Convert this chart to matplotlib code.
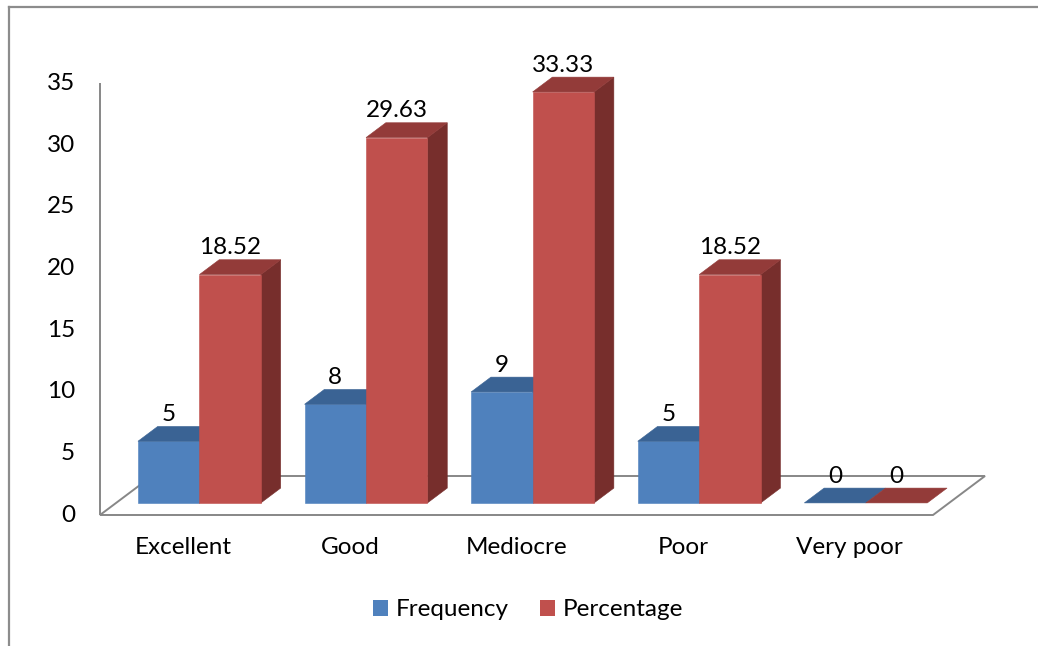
import matplotlib
matplotlib.use("Agg")
import matplotlib.pyplot as plt
from matplotlib.patches import Polygon, Patch
from matplotlib.lines import Line2D

plt.rcParams['font.family'] = ['Lato', 'DejaVu Sans']

# Survey results
categories = ["Excellent", "Good", "Mediocre", "Poor", "Very poor"]
frequency = [5, 8, 9, 5, 0]
percentage = [18.52, 29.63, 33.33, 18.52, 0]
series_names = ["Frequency", "Percentage"]
y_ticks = [0, 5, 10, 15, 20, 25, 30, 35]

# Face colours: front, top, side
blue = ("#4F81BD", "#3A6394", "#2F5078")
red = ("#C0504D", "#933B39", "#772E2C")
axis_grey = "#878787"
FS = 17.5

W, H = 1038, 646
fig = plt.figure(figsize=(W / 100, H / 100), dpi=100)
ax = fig.add_axes([0, 0, 1, 1])

# Pixel scale of the category and value axes
px_per_cat = 166.6
px_per_val = 12.33
x_left_px, y_zero_px = 100, 515
ax.set_xlim(-x_left_px / px_per_cat, (W - x_left_px) / px_per_cat)
ax.set_ylim(-(H - y_zero_px) / px_per_val, y_zero_px / px_per_val)
ax.axis("off")

n = len(categories)
# Oblique depth of the floor (data units)
depth_x = 52 / px_per_cat
depth_y = 39 / px_per_val
# Bars occupy a slab inside the floor depth
f0, f1 = 0.31, 0.69
ox, oy = f0 * depth_x, f0 * depth_y
bx, by = (f1 - f0) * depth_x, (f1 - f0) * depth_y
bar_w = 0.369

# Floor outline
floor = Polygon([(0, 0), (n, 0), (n + depth_x, depth_y), (depth_x, depth_y)],
                closed=True, facecolor="white", edgecolor=axis_grey,
                linewidth=1.4, zorder=1)
ax.add_patch(floor)
# Value axis line
ax.plot([0, 0], [0, 35], color=axis_grey, linewidth=1.4, zorder=1,
        solid_capstyle="butt")

for t in y_ticks:
    ax.text(-25 / px_per_cat, t, str(t), ha="right", va="center",
            fontsize=FS, color="black")


def draw_bar(x0, x1, h, cols, z):
    front = [(x0 + ox, oy), (x1 + ox, oy), (x1 + ox, oy + h), (x0 + ox, oy + h)]
    top = [(x0 + ox, oy + h), (x1 + ox, oy + h),
           (x1 + ox + bx, oy + h + by), (x0 + ox + bx, oy + h + by)]
    side = [(x1 + ox, oy), (x1 + ox + bx, oy + by),
            (x1 + ox + bx, oy + h + by), (x1 + ox, oy + h)]
    if h > 0:
        ax.add_patch(Polygon(side, closed=True, facecolor=cols[2],
                             edgecolor=cols[2], linewidth=0.4, zorder=z))
        ax.add_patch(Polygon(front, closed=True, facecolor=cols[0],
                             edgecolor=cols[0], linewidth=0.4, zorder=z))
    ax.add_patch(Polygon(top, closed=True, facecolor=cols[1],
                         edgecolor=cols[1], linewidth=0.4, zorder=z))


def fmt(v):
    return f"{v:g}" if float(v).is_integer() else f"{v:.2f}"


z = 2
for i in range(n):
    mid = i + 0.5
    for (x0, x1, val, cols) in [(mid - bar_w, mid, frequency[i], blue),
                                (mid, mid + bar_w, percentage[i], red)]:
        draw_bar(x0, x1, val, cols, z)
        z += 1
        ax.text((x0 + x1) / 2 + ox, oy + val + by + 12 / px_per_val, fmt(val),
                ha="center", va="center", fontsize=FS, color="black", zorder=50)
    ax.text(mid, -33 / px_per_val, categories[i], ha="center", va="center",
            fontsize=FS, color="black")

handles = [Patch(facecolor=blue[0], edgecolor="none"),
           Patch(facecolor=red[0], edgecolor="none")]
fig.legend(handles, series_names, loc="center", bbox_to_anchor=(528 / W, 1 - 610 / H),
           ncol=2, frameon=False, fontsize=FS, handlelength=0.62, handleheight=0.62,
           handletextpad=0.32, columnspacing=1.25)

# Outer frame (left and top edges)
fig.add_artist(Line2D([9 / W, 9 / W], [0, 1 - 7 / H], color="#8C8C8C",
                      linewidth=1.6, transform=fig.transFigure))
fig.add_artist(Line2D([9 / W, 1], [1 - 7 / H, 1 - 7 / H], color="#8C8C8C",
                      linewidth=1.6, transform=fig.transFigure))

fig.savefig("out.png", dpi=100)
